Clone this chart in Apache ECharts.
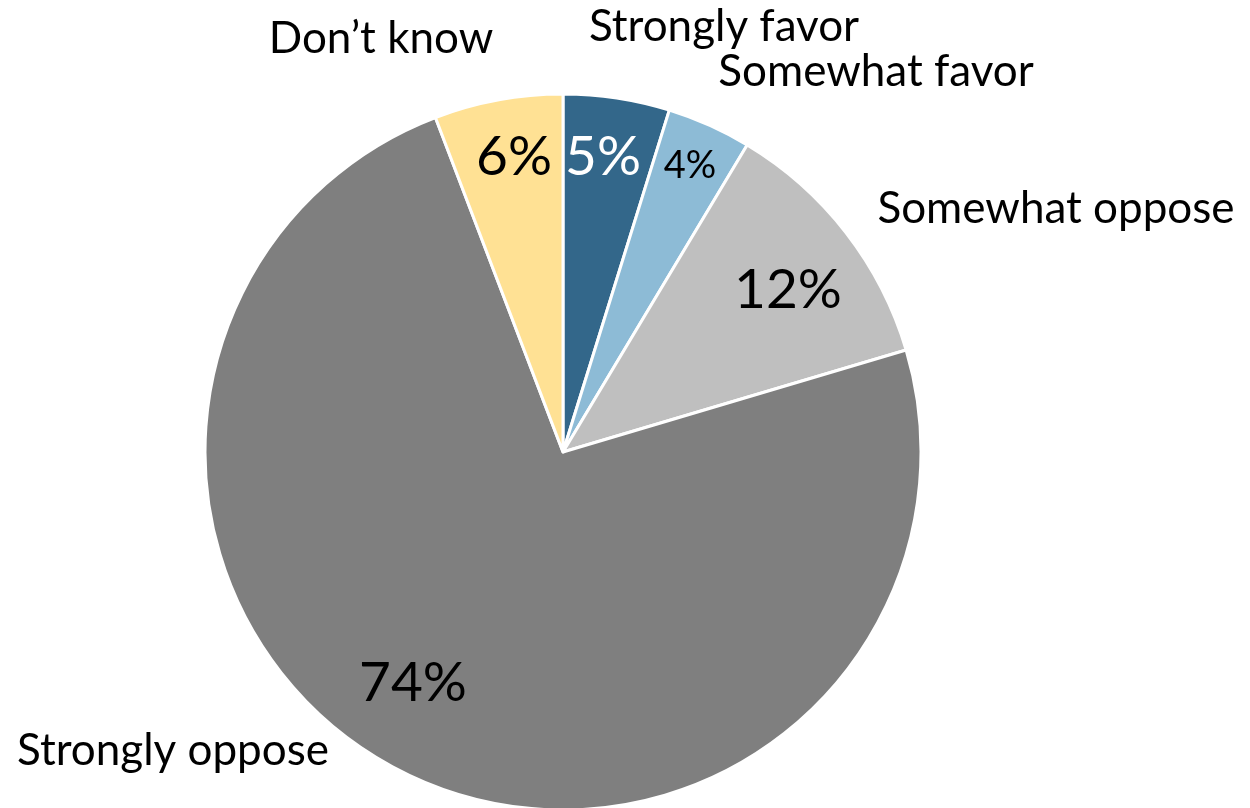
<!DOCTYPE html>
<html>
<head>
<meta charset="utf-8">
<script src="https://cdn.jsdelivr.net/npm/echarts@6/dist/echarts.min.js"></script>
<style>
html,body{margin:0;padding:0;background:#fff;}
#chart{width:1250px;height:808px;}
</style>
</head>
<body>
<div id="chart"></div>
<script>
// Data
var categories = ['Strongly favor', 'Somewhat favor', 'Somewhat oppose', 'Strongly oppose', 'Don\u2019t know'];
var values = [4.8, 3.8, 11.8, 73.8, 5.8];
var pctLabels = ['5%', '4%', '12%', '74%', '6%'];

// Styles
var colors = ['#33678A', '#8DBBD6', '#BFBFBF', '#7F7F7F', '#FFE194'];
var pctColors = ['#ffffff', '#000000', '#000000', '#000000', '#000000'];
var pctSizes = [55, 38, 55, 55, 55];
var pctPos = [[603, 157], [690, 166], [788, 290], [413, 683], [514, 157]];
var namePos = [[724, 27], [876, 72], [1056, 209], [173, 751], [381, 39]];
var FONT = 'Lato, "Open Sans", sans-serif';

var chart = echarts.init(document.getElementById('chart'));

var sliceData = categories.map(function (c, i) {
  return {
    name: c,
    value: values[i],
    itemStyle: { color: colors[i] },
    label: { color: pctColors[i], fontSize: pctSizes[i] }
  };
});
var nameData = categories.map(function (c, i) {
  return { name: c, value: values[i] };
});

chart.setOption({
  animation: false,
  backgroundColor: '#ffffff',
  series: [
    {
      type: 'pie',
      center: [563, 452],
      radius: 358,
      startAngle: 90,
      clockwise: true,
      silent: true,
      itemStyle: { borderColor: '#ffffff', borderWidth: 3 },
      label: {
        show: true,
        position: 'inside',
        fontFamily: FONT,
        overflow: 'none',
        formatter: function (p) { return pctLabels[p.dataIndex]; }
      },
      labelLine: { show: false },
      labelLayout: function (p) {
        var pos = pctPos[p.dataIndex];
        return { x: pos[0], y: pos[1], align: 'center', verticalAlign: 'middle' };
      },
      data: sliceData
    },
    {
      type: 'pie',
      center: [563, 452],
      radius: 358,
      startAngle: 90,
      clockwise: true,
      silent: true,
      edgeDistance: 0,
      itemStyle: { color: 'rgba(0,0,0,0)', borderWidth: 0 },
      label: {
        show: true,
        position: 'outside',
        fontFamily: FONT,
        fontSize: 44,
        color: '#000000',
        overflow: 'none',
        formatter: '{b}'
      },
      labelLine: { show: false },
      labelLayout: function (p) {
        var pos = namePos[p.dataIndex];
        return { x: pos[0], y: pos[1], align: 'center', verticalAlign: 'middle', width: 400 };
      },
      data: nameData
    }
  ]
});
</script>
</body>
</html>
